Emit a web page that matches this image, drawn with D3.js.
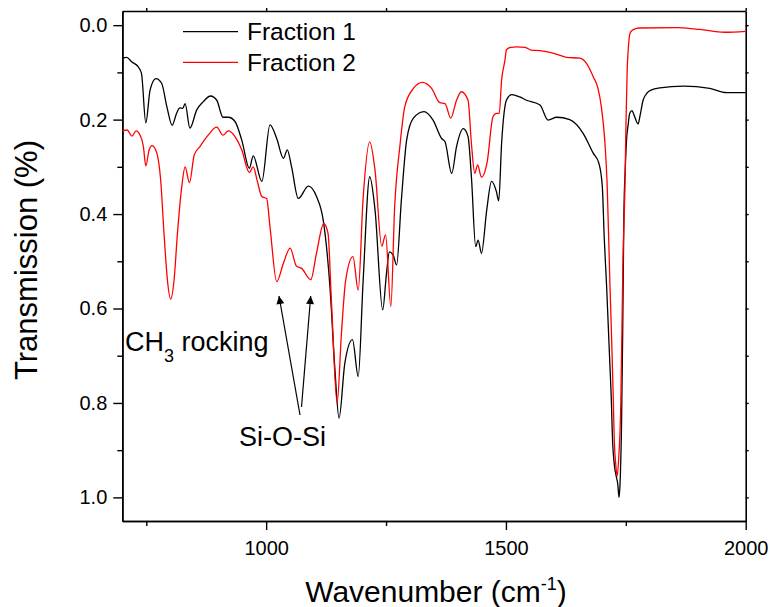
<!DOCTYPE html>
<html>
<head>
<meta charset="utf-8">
<script src="https://cdn.jsdelivr.net/npm/d3@7"></script>
<style>
  html, body { margin: 0; padding: 0; background: #fff; }
  svg { display: block; font-family: "Liberation Sans", Arial, sans-serif; }
</style>
</head>
<body>
<svg id="chart" width="770" height="607"></svg>
<script>
// ---- data ----
const wnF1 = [700,709,720,733,740,749,758,770,782,793,804,813,820,826,831,841,855,869,884,897,910,921,935,949,965,973,991,1008,1022,1036,1044,1053,1067,1088,1105,1119,1133,1143,1152,1164,1180,1192,1202,1216,1227,1243,1251,1257,1265,1272,1282,1293,1307,1329,1348,1366,1373,1387,1397,1411,1421,1428,1437,1442,1449,1460,1470,1480,1485,1491,1501,1512,1529,1543,1571,1588,1606,1633,1661,1682,1694,1701,1705,1710,1716,1720,1722,1726,1731,1733,1736,1738,1741,1743.5,1746,1749,1751.5,1755,1758,1763,1767,1775.6,1780,1786,1795,1804,1821,1870,1925,1960,2000];
const trF1 = [0.070,0.068,0.078,0.088,0.102,0.207,0.137,0.113,0.123,0.173,0.212,0.187,0.175,0.176,0.166,0.218,0.180,0.162,0.150,0.159,0.195,0.195,0.204,0.243,0.303,0.277,0.331,0.211,0.240,0.282,0.264,0.300,0.367,0.341,0.363,0.413,0.554,0.723,0.832,0.716,0.666,0.744,0.546,0.321,0.391,0.603,0.525,0.480,0.487,0.508,0.370,0.243,0.197,0.183,0.201,0.240,0.247,0.314,0.257,0.219,0.236,0.321,0.469,0.455,0.483,0.391,0.331,0.352,0.372,0.250,0.159,0.147,0.152,0.159,0.169,0.201,0.195,0.200,0.229,0.271,0.293,0.342,0.450,0.554,0.700,0.800,0.870,0.930,0.960,0.970,1.000,0.970,0.850,0.650,0.400,0.300,0.243,0.210,0.187,0.181,0.190,0.209,0.190,0.159,0.143,0.137,0.133,0.129,0.134,0.143,0.143];

const wnF2 = [700,710,720,729,737,744,749,756,762,772,780,787,794,801,808,815,824,831,840,850,862,879,897,910,921,935,949,965,973,981,991,1001,1008,1022,1036,1050,1063,1074,1093,1105,1120,1129,1136,1148,1157,1166,1181,1192,1202,1216,1227,1241,1249,1260,1268,1279,1289,1307,1326,1345,1362,1373,1385,1397,1407,1421,1428,1435,1441,1449,1461,1473,1480,1486,1491,1498,1501,1510,1522,1540,1553,1571,1598,1626,1654,1668,1682,1692,1699,1706,1711,1717,1720,1723.6,1726,1729,1732,1735,1739.6,1744,1748,1750.5,1753,1755,1758,1762,1772,1777,1856,1904,1956,2000];
const trF2 = [0.224,0.222,0.235,0.224,0.233,0.257,0.298,0.264,0.255,0.271,0.328,0.441,0.539,0.580,0.539,0.441,0.342,0.300,0.334,0.275,0.257,0.233,0.216,0.233,0.224,0.236,0.264,0.312,0.300,0.328,0.363,0.367,0.427,0.543,0.504,0.472,0.510,0.515,0.539,0.483,0.420,0.441,0.582,0.800,0.652,0.539,0.490,0.561,0.370,0.247,0.307,0.468,0.444,0.596,0.384,0.255,0.173,0.134,0.121,0.134,0.164,0.166,0.197,0.159,0.141,0.159,0.250,0.314,0.296,0.322,0.289,0.194,0.187,0.187,0.116,0.074,0.052,0.047,0.046,0.047,0.053,0.054,0.059,0.068,0.070,0.081,0.109,0.134,0.173,0.243,0.335,0.553,0.650,0.780,0.880,0.930,0.955,0.920,0.800,0.500,0.350,0.200,0.090,0.053,0.020,0.012,0.007,0.006,0.005,0.009,0.015,0.013];

const seriesNames = ["Fraction 1", "Fraction 2"];
const seriesColors = ["#000000", "#ff0000"];
const xMajorTicks = [1000, 1500, 2000];
const xMinorTicks = [750, 1250, 1750];
const yMajorTicks = [0.0, 0.2, 0.4, 0.6, 0.8, 1.0];
const yMinorTicks = [0.1, 0.3, 0.5, 0.7, 0.9];
const xTitle = "Wavenumber (cm";
const xTitleSup = "-1";
const yTitle = "Transmission (%)";

// ---- layout ----
const svg = d3.select("#chart");
const L = 122.3, R = 745.7, T = 11, B = 521;
const x = d3.scaleLinear().domain([700, 2000]).range([L, R]);
const y = d3.scaleLinear().domain([-0.03, 1.05]).range([T, B]);

const fmtY = d3.format(".1f");

function styleAxis(g) {
  g.selectAll(".domain").attr("stroke", "#000").attr("stroke-width", 1.6);
  g.selectAll(".tick line").attr("stroke", "#000").attr("stroke-width", 1.4);
  g.selectAll("text").attr("font-size", 20).attr("fill", "#000")
    .attr("font-family", "'Liberation Sans', Arial, sans-serif");
}

// bottom
svg.append("g").attr("transform", `translate(0,${B})`)
  .call(d3.axisBottom(x).tickValues(xMinorTicks).tickSize(5).tickFormat("").tickSizeOuter(0))
  .call(styleAxis);
svg.append("g").attr("transform", `translate(0,${B})`)
  .call(d3.axisBottom(x).tickValues(xMajorTicks).tickSize(9).tickPadding(11).tickSizeOuter(0).tickFormat(d3.format("d")))
  .call(styleAxis);
// top
svg.append("g").attr("transform", `translate(0,${T})`)
  .call(d3.axisTop(x).tickValues(xMajorTicks.concat(xMinorTicks)).tickSize(3).tickFormat("").tickSizeOuter(0))
  .call(styleAxis);
// left
svg.append("g").attr("transform", `translate(${L},0)`)
  .call(d3.axisLeft(y).tickValues(yMinorTicks).tickSize(5).tickFormat("").tickSizeOuter(0))
  .call(styleAxis);
svg.append("g").attr("transform", `translate(${L},0)`)
  .call(d3.axisLeft(y).tickValues(yMajorTicks).tickSize(9).tickPadding(6).tickSizeOuter(0).tickFormat(fmtY))
  .call(styleAxis);
// right
svg.append("g").attr("transform", `translate(${R},0)`)
  .call(d3.axisRight(y).tickValues(yMajorTicks.concat(yMinorTicks)).tickSize(3).tickFormat("").tickSizeOuter(0))
  .call(styleAxis);

// series
const defs = svg.append("defs");
defs.append("clipPath").attr("id", "plotclip")
  .append("rect").attr("x", L).attr("y", T).attr("width", R - L).attr("height", B - T);

const line = d3.line().x(d => x(d[0])).y(d => y(d[1])).curve(d3.curveMonotoneX);
const series = [
  { wn: wnF1, tr: trF1 },
  { wn: wnF2, tr: trF2 }
];
const plot = svg.append("g").attr("clip-path", "url(#plotclip)");
series.forEach((s, i) => {
  const pts = s.wn.map((w, k) => [w, s.tr[k]]);
  plot.append("path").datum(pts)
    .attr("fill", "none")
    .attr("stroke", seriesColors[i])
    .attr("stroke-width", 1.3)
    .attr("stroke-linejoin", "round")
    .attr("d", line);
});

// legend
const legY = [31.7, 62.3];
seriesNames.forEach((n, i) => {
  svg.append("line").attr("x1", 183).attr("x2", 238).attr("y1", legY[i]).attr("y2", legY[i])
    .attr("stroke", seriesColors[i]).attr("stroke-width", 1.3);
  svg.append("text").attr("x", 247).attr("y", legY[i] + 8.5).attr("font-size", 24.5).attr("fill", "#000").text(n);
});

// annotations
const ch = svg.append("text").attr("x", 125).attr("y", 351).attr("font-size", 27).attr("fill", "#000");
ch.append("tspan").text("CH");
ch.append("tspan").attr("font-size", 18).attr("dy", 11).text("3");
ch.append("tspan").attr("dy", -11).text(" rocking");

svg.append("text").attr("x", 239).attr("y", 446).attr("font-size", 27).attr("fill", "#000").text("Si-O-Si");

defs.append("marker").attr("id", "arrow").attr("viewBox", "0 0 10 10")
  .attr("refX", 10).attr("refY", 5).attr("markerWidth", 11).attr("markerHeight", 8)
  .attr("markerUnits", "userSpaceOnUse").attr("orient", "auto")
  .append("path").attr("d", "M0,0 L10,5 L0,10 Z").attr("fill", "#000");
svg.append("line").attr("x1", 300).attr("y1", 415).attr("x2", 279).attr("y2", 296)
  .attr("stroke", "#000").attr("stroke-width", 1.2).attr("marker-end", "url(#arrow)");
svg.append("line").attr("x1", 301.5).attr("y1", 407).attr("x2", 310.7).attr("y2", 296)
  .attr("stroke", "#000").attr("stroke-width", 1.2).attr("marker-end", "url(#arrow)");

// axis titles
const xt = svg.append("text").attr("x", 436).attr("y", 602).attr("text-anchor", "middle")
  .attr("font-size", 30).attr("fill", "#000");
xt.append("tspan").text(xTitle);
xt.append("tspan").attr("font-size", 18).attr("dy", -12).text(xTitleSup);
xt.append("tspan").attr("dy", 12).text(")");

svg.append("text").attr("transform", "translate(37,260) rotate(-90)")
  .attr("text-anchor", "middle").attr("font-size", 31).attr("fill", "#000").text(yTitle);
</script>
</body>
</html>
